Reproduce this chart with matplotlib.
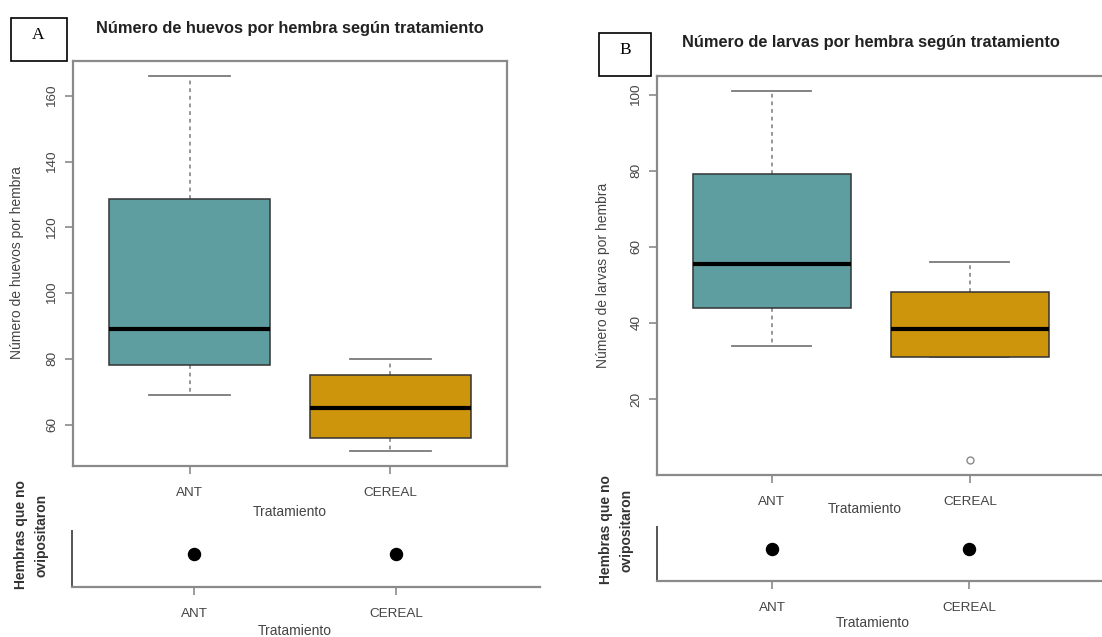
import matplotlib
matplotlib.use("Agg")
import matplotlib.pyplot as plt
from matplotlib.patches import Rectangle

# ---- data ----
tratamientos = ["ANT", "CEREAL"]

# five-number summaries: lower whisker, Q1, median, Q3, upper whisker
huevos_whislo = [69, 52]
huevos_q1 = [78, 56]
huevos_med = [89, 65]
huevos_q3 = [128.5, 75]
huevos_whishi = [166, 80]
huevos_outliers = [[], []]

larvas_whislo = [34, 31]
larvas_q1 = [44, 31]
larvas_med = [55.6, 38.5]
larvas_q3 = [79, 48]
larvas_whishi = [101, 56]
larvas_outliers = [[], [4]]

# females that did not oviposit (marker only, no scale shown)
no_ovipositaron = [1, 1]

huevos_yticks = [60, 80, 100, 120, 140, 160]
larvas_yticks = [20, 40, 60, 80, 100]

colores = ["#5F9EA0", "#CD950C"]

# ---- figure ----
W, H = 1102, 637
fig = plt.figure(figsize=(W / 100, H / 100), dpi=100)
plt.rcParams["font.family"] = ["Liberation Sans", "DejaVu Sans"]

GRAY = "#8a8a8a"
TXT = "#444444"


def rect(x0, y0, x1, y1):
    return [x0 / W, 1 - y1 / H, (x1 - x0) / W, (y1 - y0) / H]


def fx(x):
    return x / W


def fy(y):
    return 1 - y / H


def stats(whislo, q1, med, q3, whishi, fliers):
    out = []
    for i in range(len(med)):
        out.append(dict(whislo=whislo[i], q1=q1[i], med=med[i], q3=q3[i],
                        whishi=whishi[i], fliers=fliers[i], label=tratamientos[i]))
    return out


def r_range(st):
    lows = [s["whislo"] for s in st] + [v for s in st for v in s["fliers"]]
    highs = [s["whishi"] for s in st] + [v for s in st for v in s["fliers"]]
    lo, hi = min(lows), max(highs)
    d = (hi - lo) * 0.04
    return lo - d, hi + d


def box_panel(ax, st, yticks, xlim):
    res = ax.bxp(st, positions=[1, 2], widths=0.8, patch_artist=True,
                 showfliers=True, manage_ticks=False,
                 boxprops=dict(edgecolor="#333333", linewidth=1.1),
                 whiskerprops=dict(color="#7a7a7a", linestyle=(0, (2.5, 2.5)), linewidth=1.1),
                 capprops=dict(color="#7a7a7a", linewidth=1.3),
                 medianprops=dict(color="black", linewidth=3),
                 flierprops=dict(marker="o", markerfacecolor="none", markeredgecolor="#8a8a8a",
                                 markersize=5, markeredgewidth=1.0))
    for b, c in zip(res["boxes"], colores):
        b.set_facecolor(c)
        b.set_zorder(3)
    for m in res["medians"]:
        m.set_zorder(4)
    for w in res["caps"]:
        xd = w.get_xdata()
        m = (xd[0] + xd[1]) / 2
        w.set_xdata([m - 0.2, m + 0.2])
    ax.set_xlim(*xlim)
    ax.set_ylim(*r_range(st))
    ax.set_xticks([1, 2])
    ax.set_xticklabels(tratamientos)
    ax.set_yticks(yticks)
    ax.set_yticklabels([str(v) for v in yticks], rotation=90, va="center")
    for s in ax.spines.values():
        s.set_color(GRAY)
        s.set_linewidth(1.6)
    ax.tick_params(axis="both", colors=GRAY, labelcolor=TXT, labelsize=9.7,
                   length=6, width=1.2)
    ax.tick_params(axis="x", pad=9)
    ax.tick_params(axis="y", pad=4.5)


def dot_panel(ax, xlim):
    ax.scatter([1, 2], no_ovipositaron, s=75, color="black", zorder=3)
    ax.set_xlim(*xlim)
    ax.set_ylim(0, 1.7)
    ax.set_xticks([1, 2])
    ax.set_xticklabels(tratamientos)
    ax.set_yticks([])
    ax.spines["top"].set_visible(False)
    ax.spines["right"].set_visible(False)
    ax.spines["left"].set_color("#555555")
    ax.spines["left"].set_linewidth(1.4)
    ax.spines["bottom"].set_color(GRAY)
    ax.spines["bottom"].set_linewidth(1.6)
    ax.tick_params(axis="x", colors=GRAY, labelcolor=TXT, labelsize=9.7,
                   length=6, width=1.2, pad=9)


huevos = stats(huevos_whislo, huevos_q1, huevos_med, huevos_q3, huevos_whishi, huevos_outliers)
larvas = stats(larvas_whislo, larvas_q1, larvas_med, larvas_q3, larvas_whishi, larvas_outliers)

# Panel A
axA = fig.add_axes(rect(73, 61, 507, 466))
box_panel(axA, huevos, huevos_yticks, (0.42, 2.58))
axA2 = fig.add_axes(rect(72, 531, 540, 586.7))
dot_panel(axA2, (0.396, 2.713))

# Panel B
axB = fig.add_axes(rect(657, 76, 1112, 474.7))
box_panel(axB, larvas, larvas_yticks, (0.42, 2.718))
axB2 = fig.add_axes(rect(657, 527, 1112, 580.7))
dot_panel(axB2, (0.416, 2.726))

# titles
fig.text(fx(290), fy(28), "Número de huevos por hembra según tratamiento",
         ha="center", va="center", fontsize=11.8, fontweight="bold", color="#222222")
fig.text(fx(871), fy(43), "Número de larvas por hembra según tratamiento",
         ha="center", va="center", fontsize=11.8, fontweight="bold", color="#222222")

# axis titles
fig.text(fx(17), fy(263), "Número de huevos por hembra", rotation=90,
         ha="center", va="center", fontsize=10, color=TXT)
fig.text(fx(603), fy(275), "Número de larvas por hembra", rotation=90,
         ha="center", va="center", fontsize=10, color=TXT)
fig.text(fx(290), fy(512), "Tratamiento", ha="center", va="center", fontsize=10, color=TXT)
fig.text(fx(295), fy(631), "Tratamiento", ha="center", va="center", fontsize=10, color=TXT)
fig.text(fx(865), fy(509), "Tratamiento", ha="center", va="center", fontsize=10, color=TXT)
fig.text(fx(873), fy(623), "Tratamiento", ha="center", va="center", fontsize=10, color=TXT)

fig.text(fx(31), fy(535), "Hembras que no\novipositaron", rotation=90,
         ha="center", va="center", fontsize=10, fontweight="bold", color="#333333",
         multialignment="center", linespacing=1.55)
fig.text(fx(616), fy(530), "Hembras que no\novipositaron", rotation=90,
         ha="center", va="center", fontsize=10, fontweight="bold", color="#333333",
         multialignment="center", linespacing=1.55)

# panel letters
for (x0, y0, x1, y1, lab, ly) in [(10.5, 17.5, 66.5, 60.5, "A", 35), (599, 33, 651, 76, "B", 50)]:
    fig.patches.append(Rectangle((fx(x0), fy(y1)), (x1 - x0) / W, (y1 - y0) / H,
                                 transform=fig.transFigure, fill=False,
                                 edgecolor="black", linewidth=1.2))
    fig.text(fx((x0 + x1) / 2), fy(ly), lab, ha="center", va="center",
             fontsize=12.5, family=["Liberation Serif", "DejaVu Serif"], color="black")

fig.savefig("out.png", dpi=100, facecolor="white")
